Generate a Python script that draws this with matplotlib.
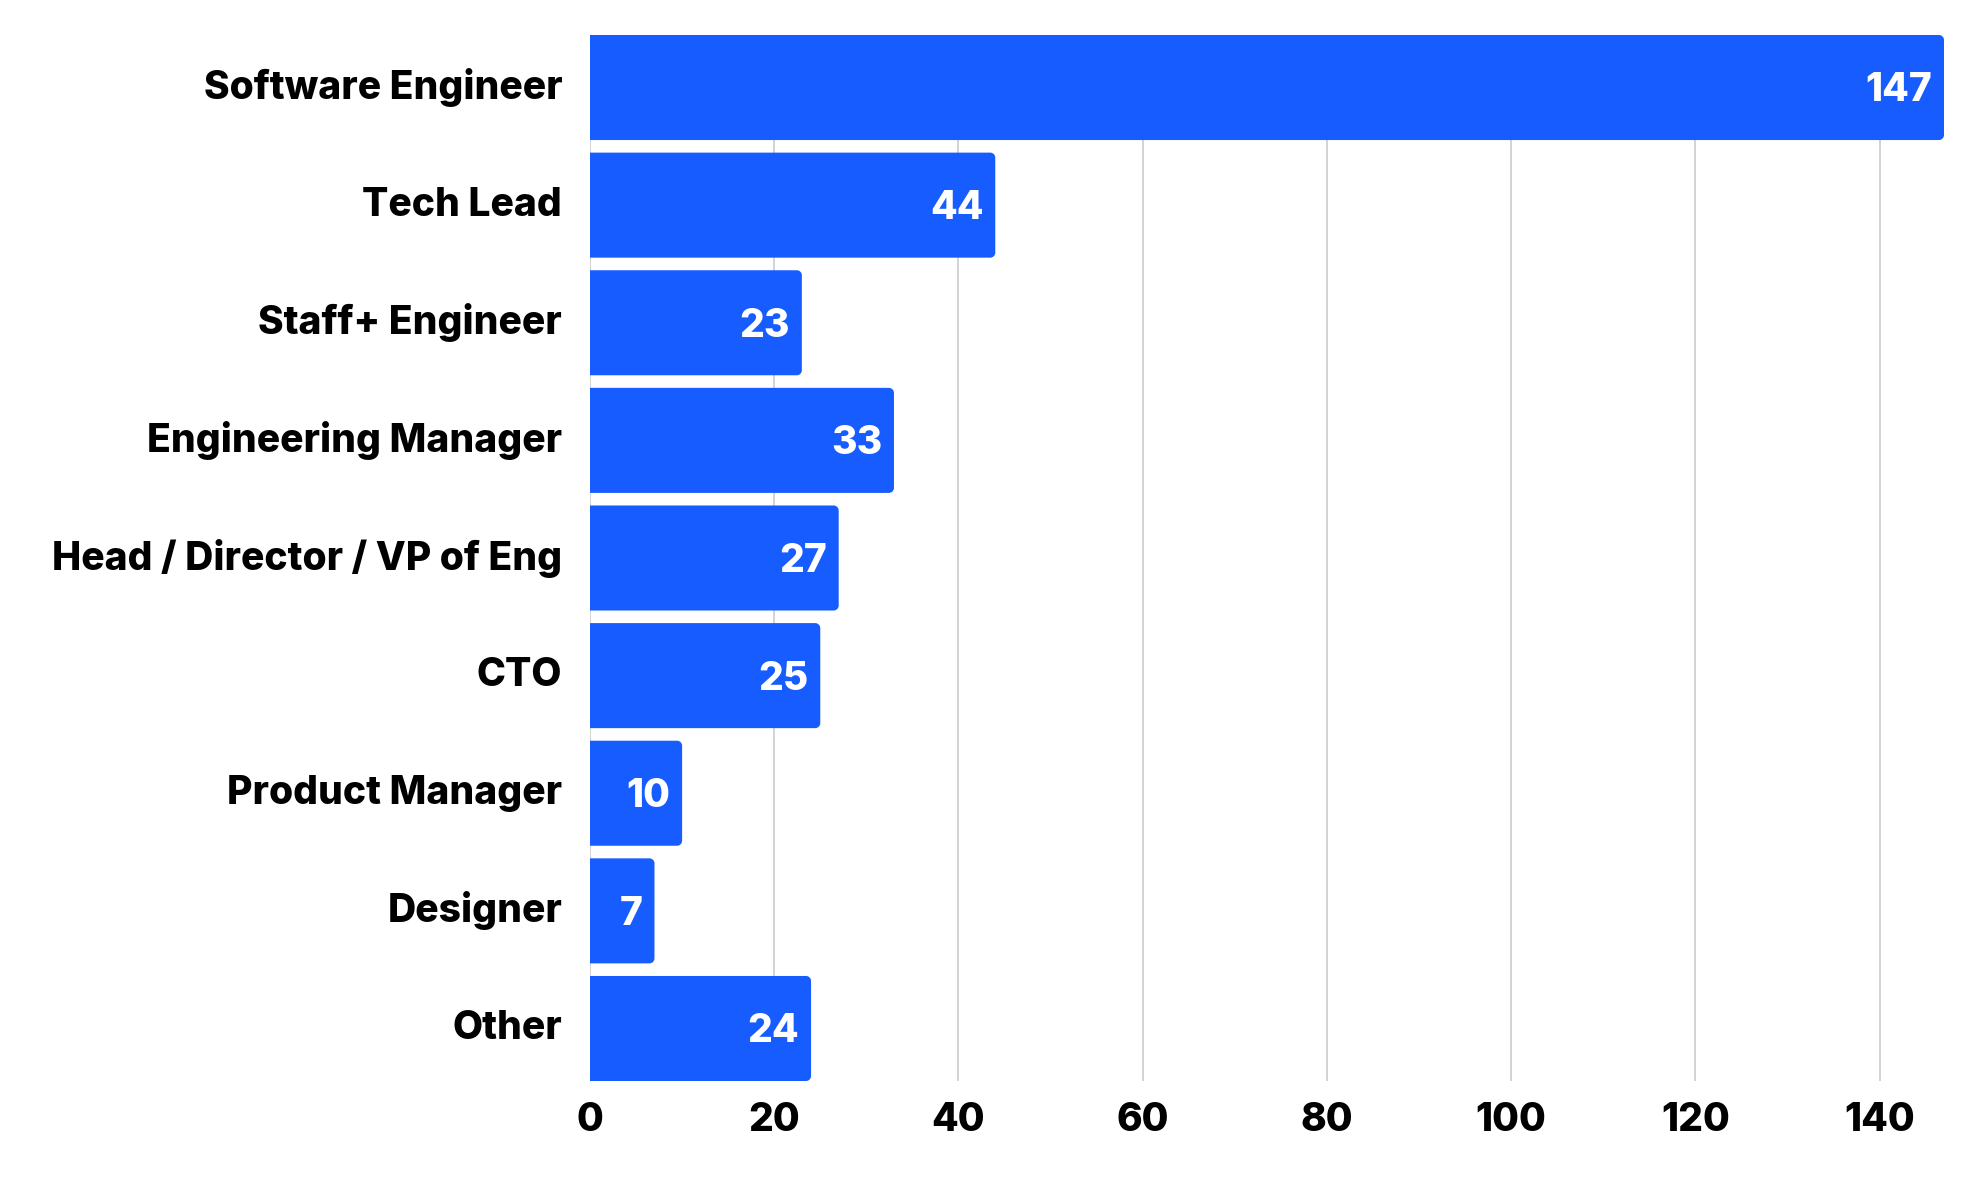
import matplotlib
matplotlib.use("Agg")
import matplotlib.pyplot as plt
from matplotlib.path import Path
from matplotlib.patches import PathPatch
from matplotlib.transforms import ScaledTranslation

categories = ["Software Engineer", "Tech Lead", "Staff+ Engineer", "Engineering Manager",
              "Head / Director / VP of Eng", "CTO", "Product Manager", "Designer", "Other"]
values = [147, 44, 23, 33, 27, 25, 10, 7, 24]
xticks = [0, 20, 40, 60, 80, 100, 120, 140]

BAR = "#175cff"
GRID = "#cccccc"
plt.rcParams['font.family'] = ['Inter', 'DejaVu Sans']
WEIGHT = 'heavy'

W, H = 1986, 1186
fig = plt.figure(figsize=(W / 100, H / 100), dpi=100)
left, right, top, bottom = 590, 1944, 35, 1081
ax = fig.add_axes([left / W, 1 - bottom / H, (right - left) / W, (bottom - top) / H])

h = 0.893
y = list(range(len(categories)))
bars = ax.barh(y, values, height=h, color=BAR, zorder=3)
ax.set_xlim(0, 147)
ax.set_ylim(len(categories) - 1 + h / 2, -h / 2)

# rounded right corners
fig.canvas.draw()
px_x = ax.transData.transform((1, 0))[0] - ax.transData.transform((0, 0))[0]
px_y = abs(ax.transData.transform((0, 1))[1] - ax.transData.transform((0, 0))[1])
r = 5.0
k = 0.5523
for b in bars:
    x0, y0 = b.get_x(), b.get_y()
    w, hh = b.get_width(), b.get_height()
    x1, y1 = x0 + w, y0 + hh
    rx, ry = r / px_x, r / px_y
    verts = [(x0, y0), (x1 - rx, y0),
             (x1 - rx + k * rx, y0), (x1, y0 + ry - k * ry), (x1, y0 + ry),
             (x1, y1 - ry),
             (x1, y1 - ry + k * ry), (x1 - rx + k * rx, y1), (x1 - rx, y1),
             (x0, y1), (x0, y0)]
    codes = [Path.MOVETO, Path.LINETO,
             Path.CURVE4, Path.CURVE4, Path.CURVE4,
             Path.LINETO,
             Path.CURVE4, Path.CURVE4, Path.CURVE4,
             Path.LINETO, Path.CLOSEPOLY]
    b.set_visible(False)
    ax.add_patch(PathPatch(Path(verts, codes), facecolor=BAR, edgecolor='none', zorder=3))

for yi, v in zip(y, values):
    ax.annotate(str(v), xy=(v, yi), xytext=(-8.5, -2.5), textcoords='offset points',
                ha='right', va='center', color='white', fontsize=28, fontweight=WEIGHT, zorder=4)

ax.set_yticks(y)
ax.set_yticklabels(categories, fontsize=28.1, fontweight=WEIGHT)
ax.set_xticks(xticks)
ax.set_xticklabels([str(t) for t in xticks], fontsize=28, fontweight=WEIGHT)
ax.tick_params(axis='both', length=0)
ax.tick_params(axis='y', pad=20)
ax.tick_params(axis='x', pad=15)
shift = ScaledTranslation(0, 4 / 100, fig.dpi_scale_trans)
for lab in ax.get_yticklabels():
    lab.set_transform(lab.get_transform() + shift)
ax.grid(axis='x', color=GRID, linewidth=1.2, zorder=0)
for s in ax.spines.values():
    s.set_visible(False)

fig.savefig("out.png", dpi=100, facecolor='white')
